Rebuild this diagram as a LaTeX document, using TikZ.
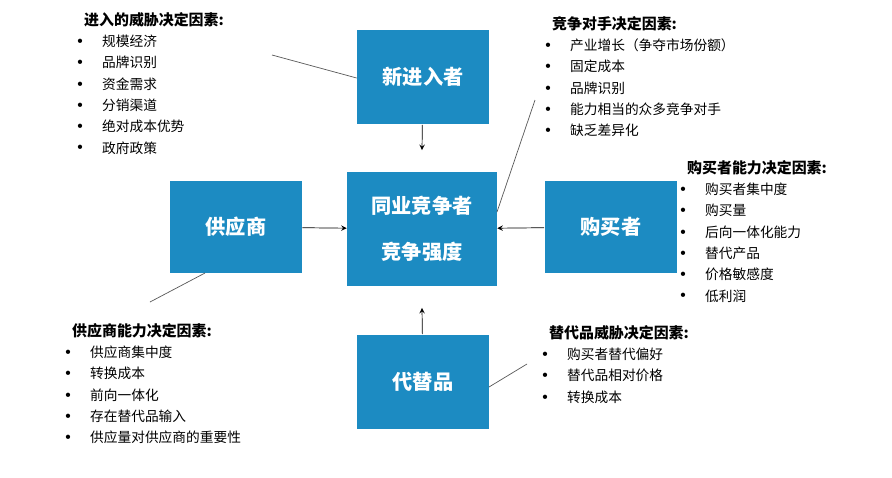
\documentclass[tikz,border=0pt]{standalone}
\usepackage{fontspec}
\setmainfont{Noto Sans CJK SC}
\usetikzlibrary{arrows}
\definecolor{boxblue}{HTML}{1C8BC2}

\tikzset{
  force/.style={fill=boxblue,draw=none,text=white,font=\fontsize{11.5}{17}\selectfont\bfseries,align=center},
  title/.style={anchor=west,font=\fontsize{8.5}{10}\selectfont\bfseries},
  item/.style={anchor=west,font=\fontsize{7.8}{10}\selectfont},
  dot/.style={anchor=center,font=\fontsize{5}{6}\selectfont}
}
\newcommand{\factorlist}[4]{% x, y of title, title, items
  \node[title] at (#1,#2) {#3};
  \foreach \txt [count=\i] in {#4} {
    \node[dot] at (#1+2,#2+\i*21.3) {$\bullet$};
    \node[item] at (#1+18,#2+\i*21.3) {\txt};
  }
}

\begin{document}
\begin{tikzpicture}[x=0.02cm,y=-0.02cm,>=stealth]
    \useasboundingbox[fill=white] (0,0) rectangle (892,477);

    % five forces
    \node[force,minimum width=2.64cm,minimum height=1.9cm] (entrant) at (423,77) {新进入者};
    \node[force,minimum width=2.64cm,minimum height=1.86cm] (supplier) at (236,227) {供应商};
    \node[force,minimum width=3cm,minimum height=2.3cm,font=\fontsize{11.5}{26}\selectfont\bfseries] (rival) at (422,229) {同业竞争者\\竞争强度};
    \node[force,minimum width=2.66cm,minimum height=1.86cm] (buyer) at (611,227) {购买者};
    \node[force,minimum width=2.64cm,minimum height=1.9cm] (subst) at (423,382) {代替品};

    % arrows
    \draw[->,thin] (entrant) -- ([yshift=12]rival.north);
    \draw[->,thin] (supplier) -- (rival);
    \draw[->,thin] (buyer) -- (rival);
    \draw[->,thin] (subst) -- ([yshift=-12]rival.south);

    % pointer lines
    \coordinate (p1) at (272,55);
    \coordinate (p2) at (535,100);
    \coordinate (p3) at (150,302);
    \coordinate (p4) at (527,364);
    \draw[gray!70!black] (p1) -- (entrant.west |- 0,78);
    \draw[gray!70!black] (p2) -- (497,212);
    \draw[gray!70!black] (p3) -- (205,273);
    \draw[gray!70!black] (p4) -- (489,387);

    % factor lists
    \factorlist{78}{20}{进入的威胁决定因素:}{规模经济,品牌识别,资金需求,分销渠道,绝对成本优势,政府政策}
    \factorlist{546}{24}{竞争对手决定因素:}{产业增长（争夺市场份额）,固定成本,品牌识别,能力相当的众多竞争对手,缺乏差异化}
    \factorlist{681}{168}{购买者能力决定因素:}{购买者集中度,购买量,后向一体化能力,替代产品,价格敏感度,低利润}
    \factorlist{66}{331}{供应商能力决定因素:}{供应商集中度,转换成本,前向一体化,存在替代品输入,供应量对供应商的重要性}
    \factorlist{543}{333}{替代品威胁决定因素:}{购买者替代偏好,替代品相对价格,转换成本}

\end{tikzpicture}
\end{document}
